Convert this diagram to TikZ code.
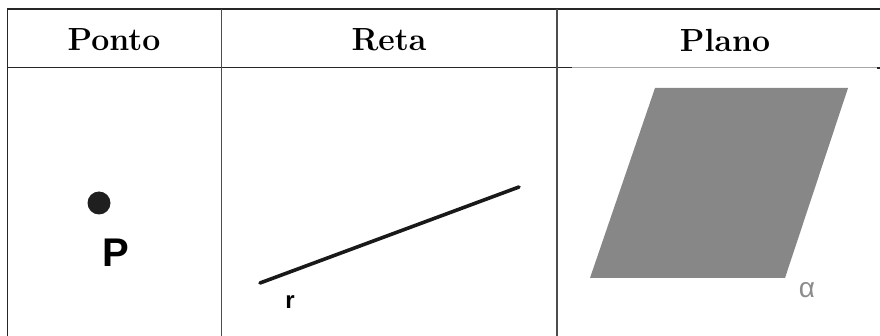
\documentclass[tikz,border=0pt]{standalone}
\usepackage{fontspec}
\newfontfamily\labelfont{Liberation Sans}
\begin{document}
\begin{tikzpicture}[
  x=1pt, y=-1pt,
  rule/.style = {line width=1.3pt, black!85},
  colrule/.style = {line width=1.8pt, black!70},
  head/.style = {font=\fontsize{32}{40}\selectfont\bfseries, inner sep=0pt},
  tag/.style = {font=\labelfont\bfseries, inner sep=0pt},
]
\useasboundingbox (0, 0) rectangle (880, 336);

% ── Table rules ─────────────────────────────────────────────────────────────
\draw[rule] (7, 9) -- (880, 9);
\draw[rule] (7, 67.5) -- (572, 67.5);
\draw[line width=1pt, gray!70] (572, 67.5) -- (877, 67.5);
\draw[rule] (877, 68) -- (880, 68);
\draw[rule]    (7.5, 9) -- (7.5, 336);
\draw[colrule] (221.5, 9) -- (221.5, 336);
\draw[colrule] (557, 9) -- (557, 336);

% ── Header row ──────────────────────────────────────────────────────────────
\node[head] (hponto) at (114, 40) {Ponto};
\node[head] (hreta)  at (389, 40) {Reta};
\node[head] (hplano) at (725, 40) {Plano};

% ── Point ───────────────────────────────────────────────────────────────────
\fill[black!88] (99, 203) circle[radius=11.5pt];
\node[tag, font=\labelfont\bfseries\fontsize{40}{44}\selectfont] (lblP) at (116, 253) {P};

% ── Line ────────────────────────────────────────────────────────────────────
\draw[line width=3.6pt, line cap=round, black!90] (260, 283) -- (519, 187);
\node[tag, font=\labelfont\bfseries\fontsize{24}{28}\selectfont] (lblr) at (290, 302) {r};

% ── Plane ───────────────────────────────────────────────────────────────────
\fill[black!47] (655, 88) -- (848, 88) -- (785, 278) -- (590, 278) -- cycle;
\node[tag, font=\labelfont\fontsize{28}{30}\selectfont, gray!90] (lblalpha) at (807, 290) {α};

\end{tikzpicture}
\end{document}
